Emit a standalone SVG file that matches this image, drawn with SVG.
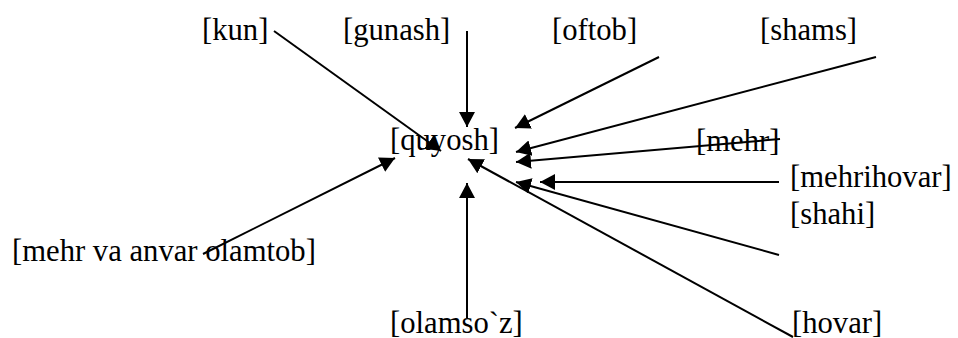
<svg xmlns="http://www.w3.org/2000/svg" width="958" height="338" viewBox="0 0 958 338">
<defs>
<style>
.c line{stroke:#000;stroke-width:2;marker-end:url(#ah)}
</style>
<marker id="ah" markerUnits="userSpaceOnUse" markerWidth="16" markerHeight="16" refX="15" refY="8" orient="auto" viewBox="0 0 16 16">
<path d="M0,0 L15,8 L0,16 z" fill="#000"/>
</marker>
</defs>
<rect width="958" height="338" fill="#fff"/>
<g font-family="Liberation Serif, Times New Roman, serif" font-size="30.67" fill="#000">
<g id="quyosh"><text x="390" y="150">[quyosh]</text></g>
<g id="kun"><text x="202" y="40">[kun]</text></g>
<g id="gunash"><text x="343" y="40">[gunash]</text></g>
<g id="oftob"><text x="552" y="40">[oftob]</text></g>
<g id="shams"><text x="760" y="40">[shams]</text></g>
<g id="mehr"><text x="696" y="151">[mehr]</text></g>
<g id="mehrihovar"><text x="790" y="187">[mehrihovar]</text></g>
<g id="shahi"><text x="790" y="224">[shahi]</text></g>
<g id="hovar"><text x="792" y="333">[hovar]</text></g>
<g id="olamsoz"><text x="390" y="333">[olamso`z]</text></g>
<g id="mehrvaanvar"><text x="12" y="261">[mehr va anvar olamtob]</text></g>
</g>
<g class="c" id="connectors">
<line x1="274" y1="31" x2="441" y2="151"/>
<line x1="467" y1="31" x2="467" y2="127"/>
<line x1="659" y1="57" x2="515" y2="128"/>
<line x1="876" y1="57" x2="516" y2="152"/>
<line x1="780" y1="139" x2="516" y2="162"/>
<line x1="779" y1="182" x2="540" y2="182"/>
<line x1="779" y1="255" x2="516" y2="182"/>
<line x1="793" y1="337" x2="468" y2="159"/>
<line x1="467" y1="318" x2="467" y2="183"/>
<line x1="203" y1="254" x2="395" y2="158"/>
</g>
</svg>
